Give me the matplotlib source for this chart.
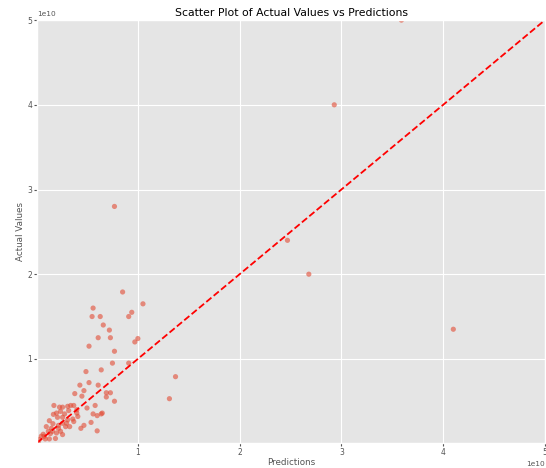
import matplotlib
matplotlib.use("Agg")
import matplotlib.pyplot as plt
import numpy as np

plt.style.use("ggplot")

# values in units of 1e10
pred = [3.59, 2.93, 2.47, 2.68, 4.10, 0.77, 0.85, 1.05, 0.94, 0.91, 0.97, 1.00, 1.37, 1.31,
        0.56, 0.55, 0.63, 0.66, 0.72, 0.61, 0.73, 0.52, 0.77, 0.75, 0.91, 0.64, 0.49,
        0.52, 0.43, 0.47, 0.61, 0.38, 0.45, 0.69, 0.73, 0.69, 0.77, 0.58,
        0.175, 0.23, 0.26, 0.31, 0.34, 0.37, 0.32, 0.40, 0.50, 0.56, 0.64, 0.65, 0.60,
        0.41, 0.17, 0.21, 0.26, 0.31, 0.36, 0.54, 0.47, 0.44, 0.60, 0.13, 0.165, 0.22,
        0.26, 0.29, 0.33, 0.20, 0.19, 0.10, 0.12, 0.07, 0.05, 0.08, 0.14, 0.16, 0.24,
        0.26, 0.13, 0.03, 0.30, 0.37, 0.20, 0.15, 0.22, 0.40, 0.24, 0.28, 0.09, 0.02]
actual = [5.00, 4.00, 2.40, 2.00, 1.35, 2.80, 1.79, 1.65, 1.55, 1.50, 1.20, 1.24, 0.79, 0.53,
          1.60, 1.50, 1.50, 1.40, 1.34, 1.25, 1.25, 1.15, 1.09, 0.95, 0.95, 0.87, 0.85,
          0.72, 0.69, 0.625, 0.69, 0.59, 0.56, 0.60, 0.60, 0.55, 0.50, 0.45,
          0.45, 0.43, 0.43, 0.44, 0.45, 0.45, 0.39, 0.40, 0.42, 0.35, 0.35, 0.36, 0.33,
          0.32, 0.345, 0.31, 0.31, 0.28, 0.29, 0.25, 0.215, 0.18, 0.15, 0.27, 0.235, 0.215,
          0.24, 0.20, 0.20, 0.125, 0.06, 0.20, 0.145, 0.11, 0.086, 0.086, 0.118, 0.145, 0.145,
          0.106, 0.055, 0.047, 0.24, 0.26, 0.36, 0.18, 0.18, 0.36, 0.38, 0.35, 0.055, 0.01]

x = np.array(pred) * 1e10
y = np.array(actual) * 1e10

fig = plt.figure(figsize=(5.46, 4.68), dpi=100)
ax = fig.add_axes([0.068, 0.054, 0.93, 0.903])
ax.scatter(x, y, s=14, alpha=0.6, color="#E24A33", edgecolors="none")
lo, hi = y.min(), y.max()
ax.plot([lo, hi], [lo, hi], "r--", lw=1.3)
ax.set_xlim(lo, hi)
ax.set_ylim(lo, hi)
ax.set_title("Scatter Plot of Actual Values vs Predictions", fontsize=7.8, pad=3)
ax.set_xlabel("Predictions", fontsize=6.3, labelpad=1)
ax.set_ylabel("Actual Values", fontsize=6.3, labelpad=2)
ax.tick_params(labelsize=5.5, length=2, pad=1.5)
ax.xaxis.get_offset_text().set_fontsize(5.3)
ax.yaxis.get_offset_text().set_fontsize(5.3)
fig.savefig("out.png", dpi=100)
